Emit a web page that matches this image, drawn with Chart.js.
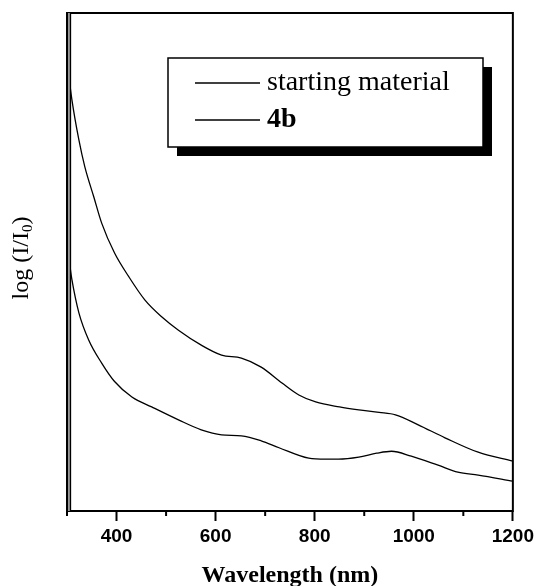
<!DOCTYPE html>
<html lang="en">
<head>
  <meta charset="UTF-8" />
  <title>log (I/I0) vs wavelength</title>
  <style>
    body { margin: 0; background: #fff; }
    canvas { display: block; }
  </style>
</head>
<body>
  <canvas id="spectra" width="538" height="586"></canvas>

  <script src="https://cdn.jsdelivr.net/npm/chart.js"></script>
  <script>
    // wavelength (nm) and log(I/I0) (arbitrary units)
    const wlStarting = [300, 302, 310, 324, 336, 354, 370, 396, 425, 457, 491, 525, 571, 612, 652, 692, 734, 768, 802, 850, 889, 930, 963, 1009, 1063, 1130, 1200];
    const startingMaterial = [90.0, 88.6, 82.5, 74.5, 69.1, 63.1, 57.8, 51.8, 47.0, 42.4, 39.0, 36.3, 33.3, 31.3, 30.7, 28.9, 25.7, 23.3, 21.9, 20.9, 20.3, 19.8, 19.3, 17.3, 14.7, 11.8, 10.0];
    const wl4b = [300, 302, 310, 324, 344, 370, 396, 431, 471, 525, 571, 612, 652, 692, 728, 788, 822, 848, 889, 925, 955, 995, 1049, 1089, 1130, 1200];
    const compound4b = [52.4, 51.8, 46.4, 39.8, 34.3, 29.7, 26.0, 22.9, 20.9, 18.3, 16.3, 15.3, 15.1, 14.1, 12.7, 10.6, 10.4, 10.4, 10.8, 11.6, 12.0, 11.0, 9.2, 7.8, 7.2, 6.0];
    const seriesNames = ['starting material', '4b'];
    const xTickValues = [400, 600, 800, 1000, 1200];
    const xMinorTicks = [300, 500, 700, 900, 1100];

    const toPoints = (xs, ys) => ys.map((v, i) => ({ x: xs[i], y: v }));

    // box, double left edge, minor ticks, y title and shadowed legend
    const framePlugin = {
      id: 'frame',
      afterDraw(chart) {
        const { ctx, chartArea: a, scales } = chart;
        ctx.save();
        ctx.strokeStyle = '#000';
        ctx.lineWidth = 2;
        ctx.strokeRect(a.left, a.top, a.right - a.left, a.bottom - a.top);
        ctx.fillStyle = '#999';
        ctx.fillRect(a.left + 1, a.top, 2, a.bottom - a.top);
        ctx.lineWidth = 1.3;
        ctx.beginPath();
        ctx.moveTo(a.left + 3.5, a.top);
        ctx.lineTo(a.left + 3.5, a.bottom);
        ctx.stroke();

        // minor ticks
        ctx.lineWidth = 2;
        xMinorTicks.forEach(v => {
          const x = scales.x.getPixelForValue(v);
          ctx.beginPath();
          ctx.moveTo(x, a.bottom);
          ctx.lineTo(x, a.bottom + 5);
          ctx.stroke();
        });

        // y axis title with subscript
        ctx.fillStyle = '#000';
        ctx.translate(22, (a.top + a.bottom) / 2 - 4);
        ctx.rotate(-Math.PI / 2);
        ctx.textBaseline = 'middle';
        const main = 'log (I/I', tail = ')';
        ctx.font = '24px "Liberation Serif"';
        const w1 = ctx.measureText(main).width;
        const w3 = ctx.measureText(tail).width;
        ctx.font = '15px "Liberation Serif"';
        const w2 = ctx.measureText('0').width;
        const x0 = -(w1 + w2 + w3) / 2;
        ctx.font = '24px "Liberation Serif"';
        ctx.fillText(main, x0, 0);
        ctx.font = '15px "Liberation Serif"';
        ctx.fillText('0', x0 + w1, 6);
        ctx.font = '24px "Liberation Serif"';
        ctx.fillText(tail, x0 + w1 + w2, 0);
        ctx.setTransform(1, 0, 0, 1, 0, 0);

        // legend
        const bx = a.left + 101, by = a.top + 45, bw = 315, bh = 89;
        ctx.fillStyle = '#000';
        ctx.fillRect(bx + 9, by + 9, bw, bh);
        ctx.fillStyle = '#fff';
        ctx.fillRect(bx, by, bw, bh);
        ctx.lineWidth = 1.5;
        ctx.strokeRect(bx, by, bw, bh);
        ctx.fillStyle = '#000';
        ctx.textBaseline = 'middle';
        const rows = [by + 25, by + 62];
        chart.data.datasets.forEach((ds, i) => {
          ctx.lineWidth = 1.3;
          ctx.beginPath();
          ctx.moveTo(bx + 27, rows[i]);
          ctx.lineTo(bx + 92, rows[i]);
          ctx.stroke();
          ctx.font = (i === 1 ? 'bold ' : '') + '28px "Liberation Serif"';
          ctx.fillText(ds.label, bx + 99, rows[i]);
        });
        ctx.restore();
      }
    };

    new Chart(document.getElementById('spectra'), {
      type: 'line',
      data: {
        datasets: [
          { label: seriesNames[0], data: toPoints(wlStarting, startingMaterial) },
          { label: seriesNames[1], data: toPoints(wl4b, compound4b) }
        ]
      },
      options: {
        responsive: false,
        animation: false,
        layout: { padding: { top: 13, right: 21, left: 0, bottom: 0 } },
        elements: {
          line: { borderColor: '#000', borderWidth: 1.3, cubicInterpolationMode: 'monotone' },
          point: { radius: 0 }
        },
        plugins: { legend: { display: false }, tooltip: { enabled: false } },
        scales: {
          x: {
            type: 'linear',
            min: 300,
            max: 1200,
            afterFit: s => { s.height = 75; },
            afterBuildTicks: s => { s.ticks = xTickValues.map(v => ({ value: v })); },
            grid: { drawOnChartArea: false, tickLength: 10, tickWidth: 2, color: '#000' },
            border: { display: false },
            ticks: {
              color: '#000',
              padding: 4,
              maxRotation: 0,
              autoSkip: false,
              callback: v => String(v),
              font: { family: '"Liberation Sans", Arial', size: 19, weight: 'bold' }
            },
            title: {
              display: true,
              text: 'Wavelength (nm)',
              color: '#000',
              padding: { top: 0, bottom: -4 },
              font: { family: '"Liberation Serif"', size: 24, weight: 'bold' }
            }
          },
          y: {
            min: 0,
            max: 100,
            afterFit: s => { s.width = 67; },
            grid: { display: false },
            border: { display: false },
            ticks: { display: false }
          }
        }
      },
      plugins: [framePlugin]
    });
  </script>
</body>
</html>
